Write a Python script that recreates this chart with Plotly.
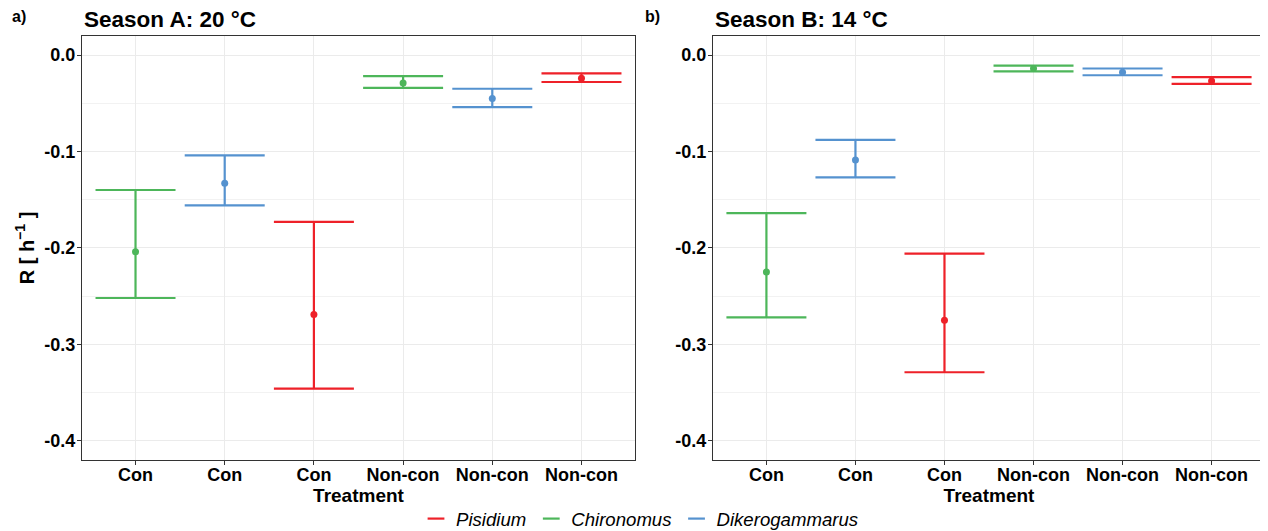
import plotly.graph_objects as go

# ---- data ----
tick_labels = ["Con", "Con", "Con", "Non-con", "Non-con", "Non-con"]
species_at = ["Chironomus", "Dikerogammarus", "Pisidium",
              "Chironomus", "Dikerogammarus", "Pisidium"]
legend_order = ["Pisidium", "Chironomus", "Dikerogammarus"]

a_mean = [-0.204, -0.133, -0.269, -0.029, -0.045, -0.024]
a_upper = [-0.140, -0.104, -0.173, -0.022, -0.035, -0.019]
a_lower = [-0.252, -0.156, -0.346, -0.034, -0.054, -0.028]

b_mean = [-0.225, -0.109, -0.275, -0.014, -0.018, -0.027]
b_upper = [-0.164, -0.088, -0.206, -0.011, -0.014, -0.023]
b_lower = [-0.272, -0.127, -0.329, -0.017, -0.021, -0.030]

colors = {"Pisidium": "#EE2129", "Chironomus": "#4DB65A", "Dikerogammarus": "#5592CF"}

FONT = "Liberation Sans, Arial, sans-serif"

# page has an 8px body margin: figure is drawn offset by (8, 8)
OFF = 8
W, H = 1268 - OFF, 531 - OFF


def px(x):
    return (x - OFF) / W


def py(y):
    return 1 - (y - OFF) / H


fig = go.Figure()

panels = [("x", "y", a_mean, a_upper, a_lower), ("x2", "y2", b_mean, b_upper, b_lower)]
for xa, ya, mean, up, lo in panels:
    for sp in legend_order:
        idx = [i for i, s in enumerate(species_at) if s == sp]
        xs = [i + 1 for i in idx]
        ys = [mean[i] for i in idx]
        plus = [up[i] - mean[i] for i in idx]
        minus = [mean[i] - lo[i] for i in idx]
        fig.add_trace(go.Scatter(
            x=xs, y=ys, mode="markers", xaxis=xa, yaxis=ya,
            marker=dict(color=colors[sp], size=7),
            error_y=dict(type="data", symmetric=False, array=plus, arrayminus=minus,
                         color=colors[sp], thickness=2.2, width=40),
            showlegend=False, hoverinfo="skip"))

# legend-only entries
for sp in legend_order:
    fig.add_trace(go.Scatter(
        x=[None], y=[None], mode="markers", name=f"<i>{sp}</i>",
        marker=dict(symbol="line-ew", size=12, color=colors[sp],
                    line=dict(color=colors[sp], width=2.2)),
        showlegend=True))

yt_vals = [0.0, -0.1, -0.2, -0.3, -0.4]
yt_text = ["0.0", "-0.1", "-0.2", "-0.3", "-0.4"]


def xaxis(domain, anchor):
    return dict(domain=domain, anchor=anchor, range=[0.4, 6.6], automargin=False,
                tickmode="array", tickvals=[1, 2, 3, 4, 5, 6], ticktext=tick_labels,
                tickfont=dict(family=FONT, size=18, color="black", weight="bold"),
                ticklabelstandoff=-6,
                showgrid=True, gridcolor="#EBEBEB", gridwidth=1,
                showline=True, mirror=True, linecolor="#333333", linewidth=1.2,
                ticks="outside", ticklen=4, tickcolor="#333333", tickwidth=1,
                zeroline=False,
                title=dict(text="<b>Treatment</b>", font=dict(family=FONT, size=19, color="black"),
                           standoff=0))


def yaxis(domain, anchor, title):
    d = dict(domain=domain, anchor=anchor, range=[-0.42, 0.0197], automargin=False,
             tickmode="array", tickvals=yt_vals, ticktext=yt_text,
             tickfont=dict(family=FONT, size=18, color="black", weight="bold"),
             ticklabelstandoff=-2,
             showgrid=True, gridcolor="#EBEBEB", gridwidth=1,
             minor=dict(tickmode="array", tickvals=[-0.05, -0.15, -0.25, -0.35],
                        showgrid=True, gridcolor="#F2F2F2", gridwidth=0.6, ticks=""),
             showline=True, mirror=True, linecolor="#333333", linewidth=1.2,
             ticks="outside", ticklen=4, tickcolor="#333333", tickwidth=1,
             zeroline=False)
    if title:
        d["title"] = dict(text=title, font=dict(family=FONT, size=20, color="black"), standoff=4)
    return d


ydom = [py(460), py(36)]
fig.update_layout(
    width=W, height=H,
    margin=dict(l=0, r=0, t=0, b=0, autoexpand=False),
    paper_bgcolor="white", plot_bgcolor="white",
    font=dict(family=FONT, color="black"),
    xaxis=xaxis([px(82), px(635)], "y"),
    yaxis=yaxis(ydom, "x", "<b>R [ h<sup>−1</sup> ]</b>"),
    xaxis2=xaxis([px(713), px(1265)], "y2"),
    yaxis2=yaxis(ydom, "x2", None),
    legend=dict(orientation="h", x=px(640), xanchor="center",
                y=py(519), yanchor="middle",
                font=dict(family=FONT, size=18.6, color="black"),
                itemwidth=30, tracegroupgap=0, bgcolor="rgba(0,0,0,0)"),
    annotations=[
        dict(text="<b>Season A: 20 °C</b>", x=px(82), y=py(19), xref="paper", yref="paper",
             xanchor="left", yanchor="middle", showarrow=False,
             font=dict(family=FONT, size=22.5, color="black")),
        dict(text="<b>Season B: 14 °C</b>", x=px(713), y=py(19), xref="paper", yref="paper",
             xanchor="left", yanchor="middle", showarrow=False,
             font=dict(family=FONT, size=22.5, color="black")),
        dict(text="<b>a)</b>", x=px(10), y=py(17), xref="paper", yref="paper",
             xanchor="left", yanchor="middle", showarrow=False,
             font=dict(family=FONT, size=16, color="black")),
        dict(text="<b>b)</b>", x=px(643), y=py(17), xref="paper", yref="paper",
             xanchor="left", yanchor="middle", showarrow=False,
             font=dict(family=FONT, size=16, color="black")),
    ],
)

fig.write_html("out.html")
